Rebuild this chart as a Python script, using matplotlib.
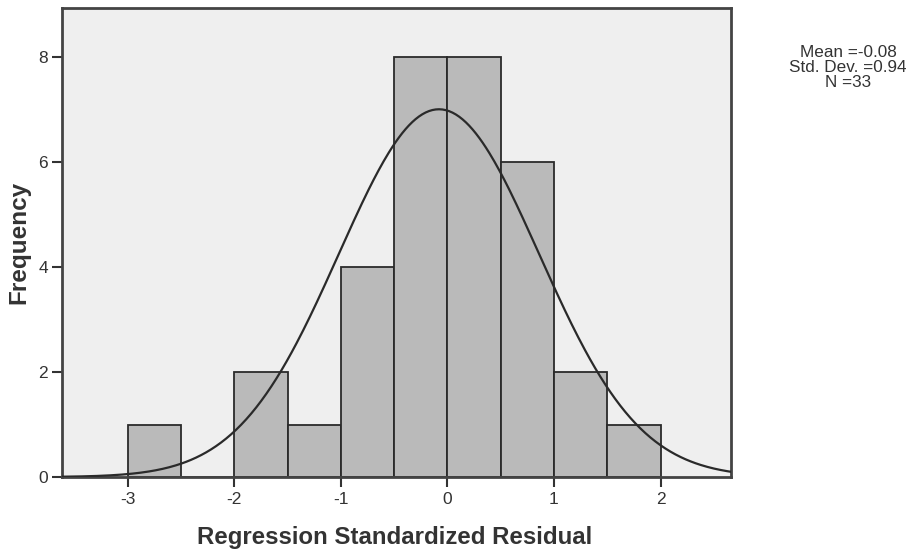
import numpy as np
import matplotlib
matplotlib.use("Agg")
import matplotlib.pyplot as plt

plt.rcParams['font.family'] = ['Liberation Sans', 'DejaVu Sans']

bin_edges = [-3.0, -2.5, -2.0, -1.5, -1.0, -0.5, 0.0, 0.5, 1.0, 1.5, 2.0]
counts = [1, 0, 2, 1, 4, 8, 8, 6, 2, 1]
mean = -0.08
std = 0.94
n = 33
x_ticks = [-3, -2, -1, 0, 1, 2]
y_ticks = [0, 2, 4, 6, 8]

fig = plt.figure(figsize=(9.09, 5.55), dpi=100)
ax = fig.add_axes([0.068, 0.1405, 0.736, 0.845])
ax.set_facecolor('#efefef')

edges = np.array(bin_edges)
widths = np.diff(edges)
ax.bar(edges[:-1], counts, width=widths, align='edge', color='#bababa',
       edgecolor='#2a2a2a', linewidth=1.3, zorder=2)

xs = np.linspace(-3.62, 2.66, 400)
bw = widths[0]
ys = n * bw * np.exp(-0.5 * ((xs - mean) / std) ** 2) / (std * np.sqrt(2 * np.pi))
ax.plot(xs, ys, color='#2a2a2a', linewidth=1.6, zorder=3)

ax.set_xlim(-3.62, 2.66)
ax.set_ylim(0, 8.93)
ax.set_xticks(x_ticks)
ax.set_xticklabels([str(t) for t in x_ticks])
ax.set_yticks(y_ticks)
ax.set_yticklabels([str(t) for t in y_ticks])
ax.tick_params(direction='out', length=7, width=1.5, colors='#333333',
               labelsize=12.5, labelcolor='#333333', pad=3)
ax.tick_params(axis='x', pad=4)
for s in ax.spines.values():
    s.set_color('#444444')
    s.set_linewidth(2)

ax.set_xlabel('Regression Standardized Residual', fontsize=17.3, fontweight='bold', color='#333333')
ax.set_ylabel('Frequency', fontsize=17.5, fontweight='bold', color='#333333')
ax.xaxis.set_label_coords(0.498, -0.13)
ax.xaxis.label.set_va('center')
ax.yaxis.set_label_coords(-0.064, 0.5)
ax.yaxis.label.set_va('center')

fig.text(0.933, 0.878, 'Mean =%.2f\nStd. Dev. =%.2f\nN =%d' % (mean, std, n),
         ha='center', va='center', fontsize=12.3, color='#333333', linespacing=1.0)

fig.savefig('out.png', dpi=100)
